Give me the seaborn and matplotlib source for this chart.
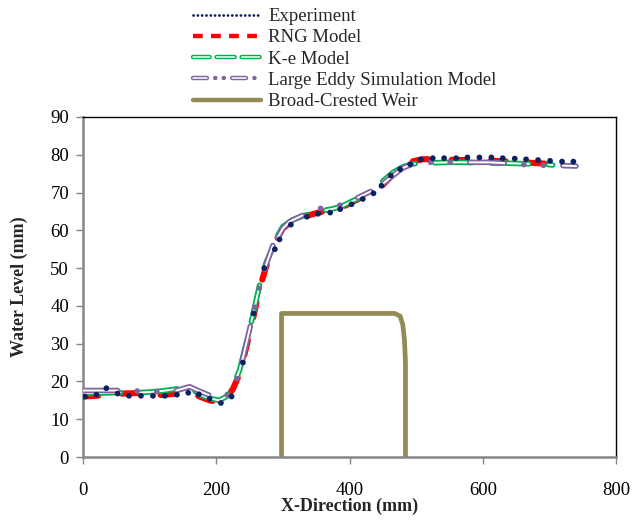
import numpy as np
import pandas as pd
import matplotlib
matplotlib.use("Agg")
import matplotlib.pyplot as plt
import seaborn as sns
from matplotlib.lines import Line2D

# ---------------- data ----------------
exp_x = [3, 20, 35, 52, 69, 87, 105, 123, 141, 158, 174, 190, 207, 223, 240, 256, 272,
         288, 295, 312, 336, 353, 371, 386, 403, 420, 436, 448, 462, 476, 491, 507, 525,
         542, 560, 577, 595, 613, 630, 648, 665, 683, 701, 719, 736]
exp_y = [16.0, 16.5, 18.2, 16.8, 16.2, 16.2, 16.2, 16.2, 16.5, 17.0, 16.6, 15.4, 14.3,
         16.0, 25.0, 38.0, 50.0, 55.0, 57.6, 61.5, 63.6, 64.4, 64.7, 65.6, 66.9, 68.3,
         69.8, 71.8, 74.5, 76.2, 77.5, 78.8, 79.1, 79.1, 79.1, 79.3, 79.3, 79.3, 79.1,
         79.0, 78.8, 78.6, 78.4, 78.2, 78.2]

# model segments (gaps where no simulated values were plotted)
rng_x = [[0, 20, 40, 60, 80, 100, 120, 140, 160, 175, 190, 205, 215, 225, 235, 245, 255, 265, 275, 285],
         [292, 300, 315, 330, 345, 360, 375, 390, 405, 420, 432],
         [450, 465, 480, 495, 510, 530, 550, 570, 590, 610, 630, 650, 670, 690, 710, 720]]
rng_y = [[16.0, 16.2, 16.5, 16.8, 16.9, 16.6, 16.4, 16.8, 17.4, 16.0, 15.0, 14.4, 15.5, 18.0, 22.0, 29.0, 36.5, 44.5, 50.5, 54.5],
         [58.0, 60.5, 62.5, 63.5, 64.3, 65.0, 65.5, 66.2, 67.6, 68.8, 69.8],
         [72.0, 74.8, 77.0, 78.3, 78.8, 78.9, 78.7, 78.6, 78.5, 78.4, 78.3, 78.1, 77.9, 77.7, 77.5, 77.4]]

ke_x = [[0, 20, 40, 60, 80, 100, 120, 140, 160, 175, 190, 205, 215, 225, 235, 245, 255, 265, 275, 285],
        [292, 300, 315, 330, 345, 360, 375, 390, 405, 420, 432],
        [450, 465, 480, 495, 510, 530, 550, 570, 590, 610, 630, 650, 670, 690, 705]]
ke_y = [[16.9, 16.9, 17.0, 17.0, 17.0, 17.2, 17.5, 18.0, 18.6, 16.5, 15.5, 15.0, 16.0, 18.5, 23.0, 30.0, 37.5, 45.5, 51.5, 55.5],
        [58.5, 61.0, 62.8, 63.8, 64.6, 65.2, 65.7, 66.5, 67.8, 69.0, 70.0],
        [73.0, 75.3, 76.8, 77.6, 77.8, 77.9, 78.0, 78.0, 77.9, 77.8, 77.8, 77.7, 77.6, 77.5, 77.3]]

les_x = [[0, 20, 40, 60, 80, 100, 120, 140, 160, 175, 190, 205, 215, 225, 235, 245, 255, 265, 275, 285],
         [292, 300, 310, 330, 345, 360, 375, 390, 405, 420, 432],
         [450, 465, 480, 495, 510, 530, 550, 570, 590, 610, 630, 650, 670, 690, 710, 740]]
les_y = [[17.6, 17.6, 17.6, 17.6, 17.5, 17.4, 17.3, 17.6, 18.6, 17.4, 16.3, 15.6, 16.2, 17.8, 22.5, 30.0, 37.5, 45.0, 51.0, 56.0],
         [58.0, 60.5, 62.3, 64.0, 65.2, 66.0, 66.3, 66.8, 68.0, 69.3, 70.3],
         [72.3, 74.5, 76.5, 77.6, 78.0, 78.0, 78.0, 78.0, 78.0, 78.0, 77.8, 77.5, 77.3, 77.2, 77.2, 77.0]]

weir_x = [298, 298, 468, 476, 480, 482.5, 484, 484]
weir_y = [0, 38, 38, 37.3, 35, 31, 25, 0]

labels = ["Experiment", "RNG Model", "K-e Model", "Large Eddy Simulation Model", "Broad-Crested Weir"]
x_ticks = [0, 200, 400, 600, 800]
y_ticks = [0, 10, 20, 30, 40, 50, 60, 70, 80, 90]

# ---------------- style ----------------
NAVY = "#0b2160"
RED = "#ff0000"
GREEN = "#00b050"
PURPLE = "#8064a2"
OLIVE = "#948a54"
GRAY = "#868686"

sns.set_theme(style="white")
plt.rcParams["font.family"] = ["Liberation Serif", "DejaVu Serif"]
plt.rcParams["lines.scale_dashes"] = False


def seg_frame(xs, ys):
    rows = []
    for i, (sx, sy) in enumerate(zip(xs, ys)):
        for a, b in zip(sx, sy):
            rows.append((a, b, i))
    return pd.DataFrame(rows, columns=["x", "y", "seg"])


fig = plt.figure(figsize=(6.32, 5.2), dpi=100)
ax = fig.add_axes([83 / 632, 1 - 457 / 520, (616 - 83) / 632, (457 - 117) / 520])

# weir
sns.lineplot(x=weir_x, y=weir_y, sort=False, estimator=None, color=OLIVE, lw=3.4,
             ax=ax, legend=False, solid_joinstyle="round", zorder=2)

# RNG
rng_ls = (0, (11, 17))
df = seg_frame(rng_x, rng_y)
sns.lineplot(data=df, x="x", y="y", units="seg", estimator=None, sort=False, color=RED,
             lw=4.4, linestyle=rng_ls, dash_capstyle="round", ax=ax, legend=False, zorder=3)

# K-e (double line)
ke_ls = (0, (27, 14))
df = seg_frame(ke_x, ke_y)
sns.lineplot(data=df, x="x", y="y", units="seg", estimator=None, sort=False, color=GREEN,
             lw=4.0, linestyle=ke_ls, dash_capstyle="round", ax=ax, legend=False, zorder=4)
sns.lineplot(data=df, x="x", y="y", units="seg", estimator=None, sort=False, color="white",
             lw=1.4, linestyle=ke_ls, dash_capstyle="round", ax=ax, legend=False, zorder=4.1)

# LES (double line, dash-dot-dot)
les_ls = (0, (25, 14, 0.1, 14, 0.1, 14))
les_in = (0, (25, 42.2))
df = seg_frame(les_x, les_y)
sns.lineplot(data=df, x="x", y="y", units="seg", estimator=None, sort=False, color=PURPLE,
             lw=4.0, linestyle=les_ls, dash_capstyle="round", ax=ax, legend=False, zorder=5)
sns.lineplot(data=df, x="x", y="y", units="seg", estimator=None, sort=False, color="white",
             lw=1.4, linestyle=les_in, dash_capstyle="round", ax=ax, legend=False, zorder=5.1)

# Experiment
sns.scatterplot(x=exp_x, y=exp_y, color=NAVY, s=17, edgecolor="none", ax=ax, zorder=6,
                legend=False)

ax.set_xlim(0, 800)
ax.set_ylim(0, 90)
ax.set_xticks(x_ticks)
ax.set_yticks(y_ticks)
ax.tick_params(axis="both", which="both", direction="out", length=5, width=1,
               color=GRAY, labelsize=13.5, labelcolor="black", pad=5,
               left=True, bottom=True)
ax.tick_params(axis="x", pad=13)
for s in ["left", "bottom"]:
    ax.spines[s].set_color(GRAY)
    ax.spines[s].set_linewidth(1.8)
for s in ["top", "right"]:
    ax.spines[s].set_color("black")
    ax.spines[s].set_linewidth(1.0)
ax.grid(False)

ax.set_xlabel("X-Direction (mm)", fontsize=13, fontweight="bold", labelpad=-1)
ax.set_ylabel("Water Level (mm)", fontsize=13, fontweight="bold", labelpad=16)

# legend
h_exp = Line2D([], [], color=NAVY, lw=2.0, linestyle=(0, (0.1, 3)), dash_capstyle="round")
h_rng = Line2D([], [], color=RED, lw=3.2, linestyle=(0, (7, 6)), dash_capstyle="butt")
h_ke_o = Line2D([], [], color=GREEN, lw=3.2, linestyle=(1, (13, 5)), dash_capstyle="round")
h_ke_i = Line2D([], [], color="white", lw=1.1, linestyle=(1, (13, 5)), dash_capstyle="round")
h_les_o = Line2D([], [], color=PURPLE, lw=3.2, linestyle=(0, (10, 6, 0.1, 6, 0.1, 6)),
                 dash_capstyle="round")
h_les_i = Line2D([], [], color="white", lw=1.1, linestyle=(0, (10, 18.2)), dash_capstyle="round")
h_weir = Line2D([], [], color=OLIVE, lw=3.2)

fig.legend([h_exp, h_rng, (h_ke_o, h_ke_i), (h_les_o, h_les_i), h_weir], labels,
           loc="upper left", bbox_to_anchor=(193 / 632, 1 - 8 / 520),
           frameon=False, fontsize=13.5, handlelength=3.6, handletextpad=0.42,
           labelspacing=0.22, borderpad=0, borderaxespad=0)

fig.savefig("out.png", dpi=100)
